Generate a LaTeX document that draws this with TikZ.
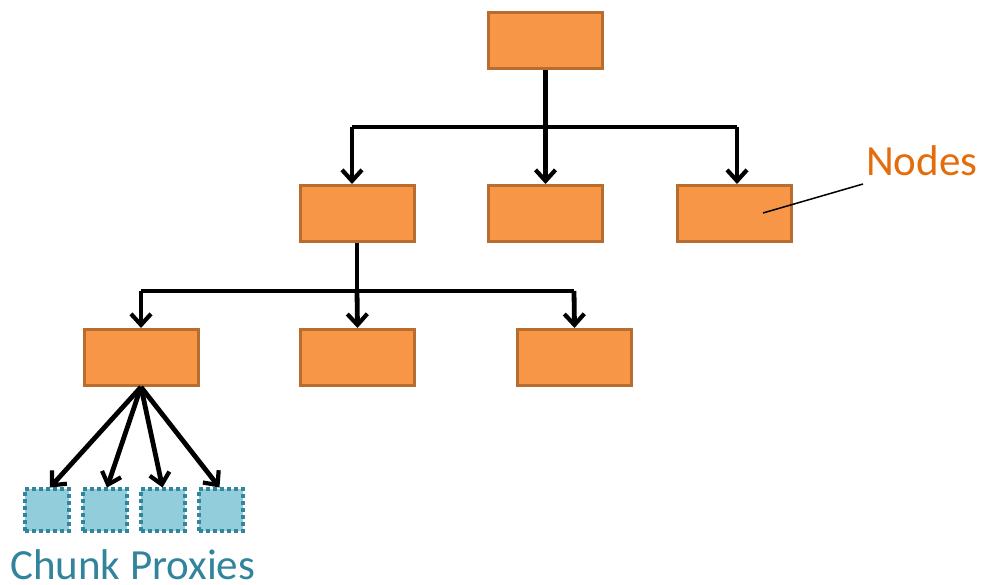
\documentclass[tikz,border=0pt]{standalone}
\usepackage{fontspec}
\setmainfont{Carlito}
\usetikzlibrary{arrows.meta}
\definecolor{nodefill}{HTML}{F79646}
\definecolor{nodeedge}{HTML}{B86D2E}
\definecolor{chunkfill}{HTML}{92CDDC}
\definecolor{chunkedge}{HTML}{31859C}
\definecolor{labelorange}{HTML}{E46C0A}
\definecolor{labelteal}{HTML}{31849B}
\begin{document}
\begin{tikzpicture}[x=1pt,y=-1pt,
  treenode/.style={draw=nodeedge,fill=nodefill,line width=3pt,minimum width=114pt,minimum height=56pt,inner sep=0pt},
  chunk/.style={draw=chunkedge,fill=chunkfill,line width=4pt,dash pattern=on 4pt off 3pt,minimum width=44pt,minimum height=42pt,inner sep=0pt},
  conn/.style={line width=4.8pt,black},
  arr/.style={conn,-{Straight Barb[length=11pt,width=20pt,line width=4.2pt]}}]
\useasboundingbox (0,0) rectangle (984,585);
% tree nodes
\node[treenode] (r) at (545.5,41) {};
\node[treenode] (a) at (357,213.5) {};
\node[treenode] (b) at (545.5,213.5) {};
\node[treenode] (c) at (734,213.5) {};
\node[treenode] (d) at (141,357.5) {};
\node[treenode] (e) at (357.5,357.5) {};
\node[treenode] (f) at (574.5,357.5) {};
% chunk proxies
\node[chunk] (p1) at (47,509.5) {};
\node[chunk] (p2) at (105,509.5) {};
\node[chunk] (p3) at (162.5,509.5) {};
\node[chunk] (p4) at (220.5,509.5) {};
% junctions
\coordinate (j1) at (545.5,127);
\coordinate (j1l) at (352,127);
\coordinate (j1r) at (737,127);
\coordinate (j2) at (357,291);
\coordinate (j2l) at (141,291);
\coordinate (j2r) at (574,291);
% connectors level 1
\draw[conn] (r.south) -- (j1);
\draw[conn] (j1l) -- (j1r);
\draw[arr] (j1l) -- (j1l |- a.north);
\draw[arr] (j1) -- (b.north);
\draw[arr] (j1r) -- (j1r |- c.north);
% connectors level 2
\draw[conn] (a.south) -- (j2);
\draw[conn] (j2l) -- (j2r);
\draw[arr] (j2l) -- (d.north);
\draw[arr] (j2) -- (e.north);
\draw[arr] (j2r) -- (f.north);
% fan to chunks
\draw[arr] (d.south) -- ([xshift=3pt,yshift=-1pt]p1.north);
\draw[arr] (d.south) -- ([xshift=2pt,yshift=-1pt]p2.north);
\draw[arr] (d.south) -- ([yshift=-1pt]p3.north);
\draw[arr] (d.south) -- ([xshift=-1pt,yshift=-1pt]p4.north);
% labels
\node[text=labelteal,font=\fontsize{43}{50}\selectfont,anchor=base west,inner sep=0pt] (cp) at (10,579) {Chunk Proxies};
\node[text=labelorange,font=\fontsize{43}{50}\selectfont,anchor=base west,inner sep=0pt] (nl) at (866,176) {Nodes};
\coordinate (nlend) at (863,184);
\draw[line width=1.5pt] (nlend) -- (763,213);
\end{tikzpicture}
\end{document}
